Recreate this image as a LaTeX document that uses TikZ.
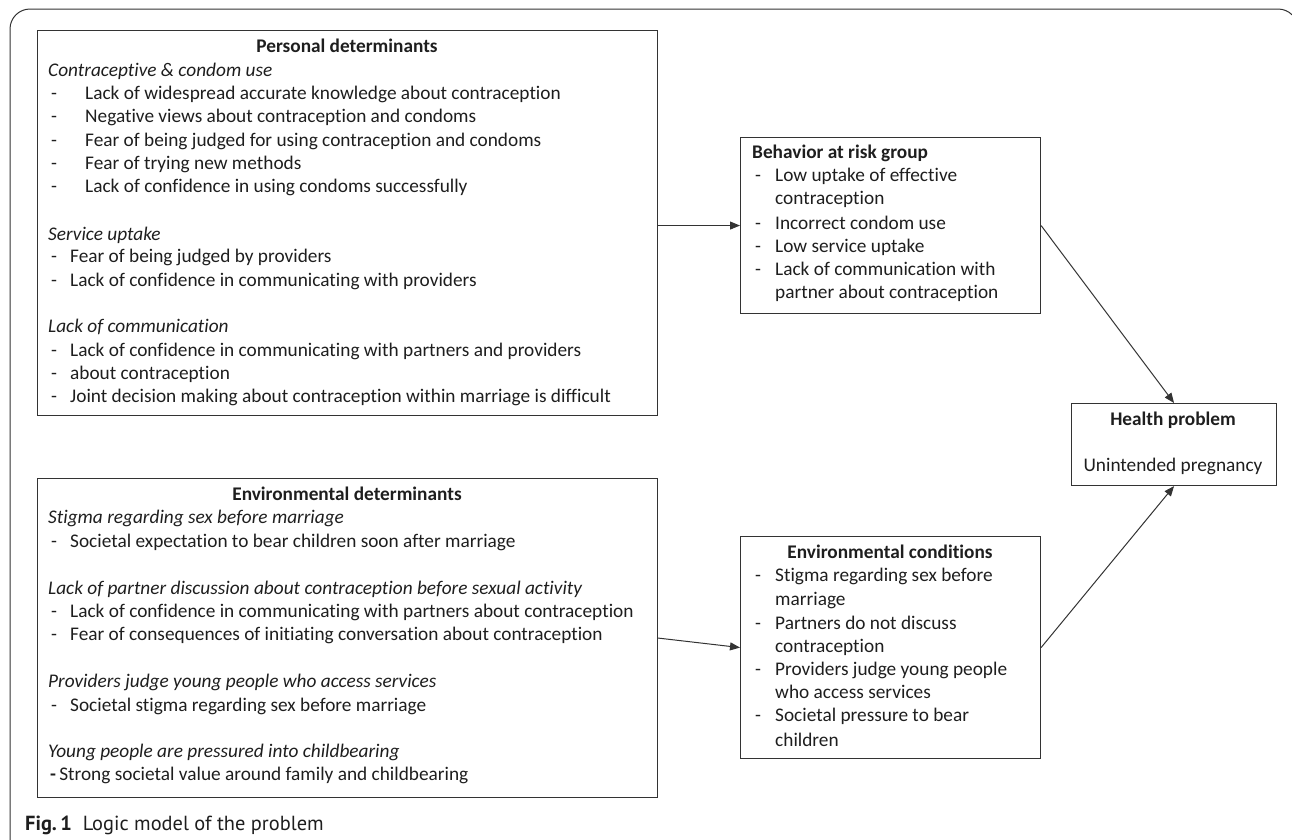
\documentclass[tikz,border=0pt]{standalone}
\usepackage{fontspec}
\setmainfont{Carlito}[Ligatures=NoCommon]
\newfontfamily\capfont{PT Sans}
\usetikzlibrary{arrows.meta}
\definecolor{ink}{HTML}{1E1E1E}
\definecolor{edge}{HTML}{333333}
\newcommand\bodyfont{\fontsize{19.3}{23}\selectfont}
\begin{document}
\begin{tikzpicture}[x=1pt,y=-1pt,
  box/.style={draw=edge, line width=1.1pt, inner sep=0pt, anchor=north west},
  txt/.style={anchor=mid west, inner sep=0pt, font=\bodyfont, text=ink, yshift=-2.5pt},
  ttl/.style={anchor=mid, inner sep=0pt, font=\bodyfont\bfseries, text=ink, yshift=-2.5pt},
  hd/.style={txt, font=\bodyfont\itshape},
  arr/.style={draw=edge, line width=1pt, -{Triangle[length=10pt,width=8pt]}},
  frame/.style={draw=edge, line width=1pt}]
\useasboundingbox (0,0) rectangle (1292,839);
% outer frame
\draw[frame, rounded corners=20pt] (10,860) -- (10,9) -- (1298,9) -- (1298,860);

% boxes
\node[box, minimum width=620pt, minimum height=385pt] (personal) at (37,30) {};
\node[box, minimum width=620pt, minimum height=319pt] (envdet) at (37,478) {};
\node[box, minimum width=300pt, minimum height=176pt] (behavior) at (740,137) {};
\node[box, minimum width=300pt, minimum height=222pt] (envcond) at (740,536) {};
\node[box, minimum width=205pt, minimum height=82pt] (health) at (1071,403) {};

% personal determinants
\node[ttl] (pt) at (347,48) {Personal determinants};
\node[hd] (ph1) at (48,72) {Contraceptive \& condom use};
\node[txt] (pd1) at (51,95) {-};  \node[txt] (pi1) at (85,95) {Lack of widespread accurate knowledge about contraception};
\node[txt] (pd2) at (51,118) {-}; \node[txt] (pi2) at (85,118) {Negative views about contraception and condoms};
\node[txt] (pd3) at (51,142) {-}; \node[txt] (pi3) at (85,142) {Fear of being judged for using contraception and condoms};
\node[txt] (pd4) at (51,165) {-}; \node[txt] (pi4) at (85,165) {Fear of trying new methods};
\node[txt] (pd5) at (51,188) {-}; \node[txt] (pi5) at (85,188) {Lack of confidence in using condoms successfully};
\node[hd] (ph2) at (48,236) {Service uptake};
\node[txt] (pd6) at (51,258) {-}; \node[txt] (pi6) at (70,258) {Fear of being judged by providers};
\node[txt] (pd7) at (51,282) {-}; \node[txt] (pi7) at (70,282) {Lack of confidence in communicating with providers};
\node[hd] (ph3) at (48,328) {Lack of communication};
\node[txt] (pd8) at (51,352) {-}; \node[txt] (pi8) at (70,352) {Lack of confidence in communicating with partners and providers};
\node[txt] (pd9) at (51,375) {-}; \node[txt] (pi9) at (70,375) {about contraception};
\node[txt] (pd10) at (51,398) {-}; \node[txt] (pi10) at (70,398) {Joint decision making about contraception within marriage is difficult};

% environmental determinants
\node[ttl] (et) at (347,496) {Environmental determinants};
\node[hd] (eh1) at (48,519) {Stigma regarding sex before marriage};
\node[txt] (ed1) at (51,543) {-}; \node[txt] (ei1) at (70,543) {Societal expectation to bear children soon after marriage};
\node[hd] (eh2) at (48,590) {Lack of partner discussion about contraception before sexual activity};
\node[txt] (ed2) at (51,613) {-}; \node[txt] (ei2) at (70,613) {Lack of confidence in communicating with partners about contraception};
\node[txt] (ed3) at (51,636) {-}; \node[txt] (ei3) at (70,636) {Fear of consequences of initiating conversation about contraception};
\node[hd] (eh3) at (48,683) {Providers judge young people who access services};
\node[txt] (ed4) at (51,707) {-}; \node[txt] (ei4) at (70,707) {Societal stigma regarding sex before marriage};
\node[hd] (eh4) at (48,753) {Young people are pressured into childbearing};
\node[txt] (ei5) at (50,776) {\textbf{-}\,Strong societal value around family and childbearing};

% behavior
\node[txt, font=\bodyfont\bfseries] (bt) at (752,154) {Behavior at risk group};
\node[txt] (bd1) at (755,177) {-}; \node[txt] (bi1) at (775,177) {Low uptake of effective};
\node[txt] (bi1b) at (775,200) {contraception};
\node[txt] (bd2) at (755,225) {-}; \node[txt] (bi2) at (775,225) {Incorrect condom use};
\node[txt] (bd3) at (755,248) {-}; \node[txt] (bi3) at (775,248) {Low service uptake};
\node[txt] (bd4) at (755,271) {-}; \node[txt] (bi4) at (775,271) {Lack of communication with};
\node[txt] (bi4b) at (775,294) {partner about contraception};

% health
\node[ttl] (ht) at (1173,421) {Health problem};
\node[anchor=mid, inner sep=0pt, font=\bodyfont, text=ink, yshift=-2.5pt] (hi) at (1173,467) {Unintended pregnancy};

% environmental conditions
\node[ttl] (ct) at (890,554) {Environmental conditions};
\node[txt] (cd1) at (755,577) {-}; \node[txt] (ci1) at (775,577) {Stigma regarding sex before};
\node[txt] (ci1b) at (775,601) {marriage};
\node[txt] (cd2) at (755,625) {-}; \node[txt] (ci2) at (775,625) {Partners do not discuss};
\node[txt] (ci2b) at (775,648) {contraception};
\node[txt] (cd3) at (755,671) {-}; \node[txt] (ci3) at (775,671) {Providers judge young people};
\node[txt] (ci3b) at (775,694) {who access services};
\node[txt] (cd4) at (755,717) {-}; \node[txt] (ci4) at (775,717) {Societal pressure to bear};
\node[txt] (ci4b) at (775,742) {children};

% caption
\node[anchor=mid west, inner sep=0pt, font=\capfont\fontsize{20.4}{24}\selectfont, text=ink, yshift=-2pt] (cap) at (25,826) {\textbf{Fig.\,1}\ \ Logic model of the problem};

% connectors
\draw[arr] (personal.east |- behavior.west) -- (behavior.west);
\draw[arr] (behavior.east) -- (health.north);
\draw[arr] (envdet.east) -- (envcond.west);
\draw[arr] (envcond.east) -- (health.south);
\end{tikzpicture}
\end{document}
